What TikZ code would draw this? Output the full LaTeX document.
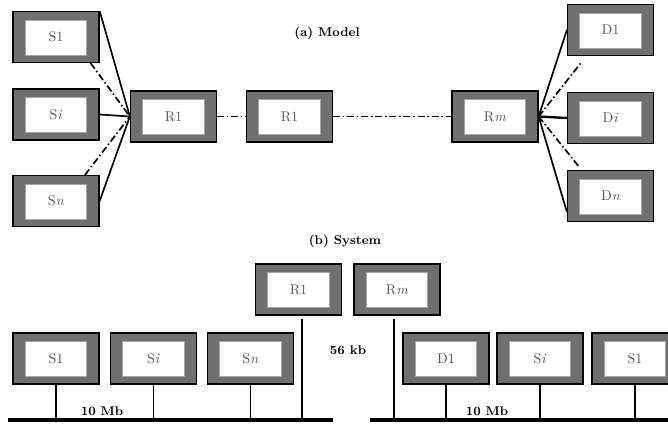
\documentclass[tikz,border=0pt]{standalone}
\usepackage{tikz}
\definecolor{framegray}{RGB}{112,112,112}
\definecolor{labelgray}{RGB}{85,85,85}

\begin{document}
\begin{tikzpicture}[
    x=0.025cm, y=-0.025cm,
    unit/.style={rectangle, draw=black, fill=framegray, line width=0.9pt,
                 minimum width=2.15cm, minimum height=1.27cm, inner sep=0pt,
                 font=\normalsize, text=labelgray,
                 path picture={\draw[gray!70, fill=white, line width=0.6pt]
                   ([xshift=-0.77cm,yshift=-0.45cm]path picture bounding box.center) rectangle
                   ([xshift=0.77cm,yshift=0.42cm]path picture bounding box.center);}},
    title/.style={font=\small\bfseries},
    link/.style={line width=1.2pt},
    dlink/.style={line width=1.2pt, dash pattern=on 5pt off 2pt on 1pt off 2pt},
    bus/.style={line width=2.6pt}
]
\useasboundingbox (0,0) rectangle (668,423);

% (a) Model
\node[title] (ta) at (327,33) {(a) Model};

\node[unit] (s1) at (56,37)    {S1};
\node[unit] (si) at (56,114.5) {S\textit{i}};
\node[unit] (sn) at (56,201)   {S\textit{n}};

\node[unit] (r1) at (173.5,116.5) {R1};
\node[unit] (ri) at (289.5,116.5) {R1};
\node[unit] (rm) at (495,116.5)   {R\textit{m}};

\node[unit] (d1) at (610.5,30)  {D1};
\node[unit] (di) at (610.5,118) {D\textit{i}};
\node[unit] (dn) at (610.5,196) {D\textit{n}};

% sources to first router
\draw[link]  (s1.north east) -- (r1.west);
\draw[dlink] (s1.-37) -- (r1.west);
\draw[link]  (si.east) -- (r1.west);
\draw[dlink] (sn.42) -- (r1.west);
\draw[link]  (sn.east) -- (r1.west);

% router chain
\draw[dlink] (r1.east) -- (ri.west);
\draw[dlink] (ri.east) -- (rm.west);

% last router to destinations
\draw[link]  (rm.east) -- (d1.west);
\draw[dlink] (rm.east) -- ([yshift=-0.15cm]d1.-138);
\draw[link, line width=1.7pt] (rm.east) -- (di.west);
\draw[dlink] (rm.east) -- ([yshift=0.1cm]dn.141);
\draw[link]  (rm.east) -- (dn.200);

% (b) System
\node[title] (tb) at (345,241) {(b) System};

\node[unit] (br1) at (298.5,289.5) {R1};
\node[unit] (brm) at (397,289.5)   {R\textit{m}};

\node[unit] (bs1) at (56,358.5)    {S1};
\node[unit] (bsi) at (153.5,358.5) {S\textit{i}};
\node[unit] (bsn) at (250.5,358.5) {S\textit{n}};

\node[unit] (bd1)  at (446,358.5) {D1};
\node[unit] (bsi2) at (540,358.5) {S\textit{i}};
\node[unit] (bs12) at (635,358.5) {S1};

% buses
\coordinate (busl)  at (8,420);
\coordinate (busle) at (333,420);
\coordinate (busr)  at (370,420);
\coordinate (busre) at (668,420);
\draw[bus] (busl) -- (busle);
\draw[bus] (busr) -- (busre);

\draw[link] (bs1.south) -- (bs1.south |- busl);
\draw[link] (bsi.south) -- (bsi.south |- busl);
\draw[link] (bsn.south) -- (bsn.south |- busl);
\draw[link] ([xshift=0.09cm,yshift=-0.08cm]br1.south) -- ([xshift=0.09cm]br1.south |- busl);

\draw[link] (bd1.south)  -- (bd1.south |- busr);
\draw[link] (bsi2.south) -- (bsi2.south |- busr);
\draw[link] (bs12.south) -- (bs12.south |- busr);
\draw[link] ([xshift=-0.07cm,yshift=-0.08cm]brm.south) -- ([xshift=-0.07cm]brm.south |- busr);

% link rates
\node[title] (rl) at (102,411) {10 Mb};
\node[title] (rr) at (487,411) {10 Mb};
\node[title] (rw) at (348,350) {56 kb};

\end{tikzpicture}
\end{document}
